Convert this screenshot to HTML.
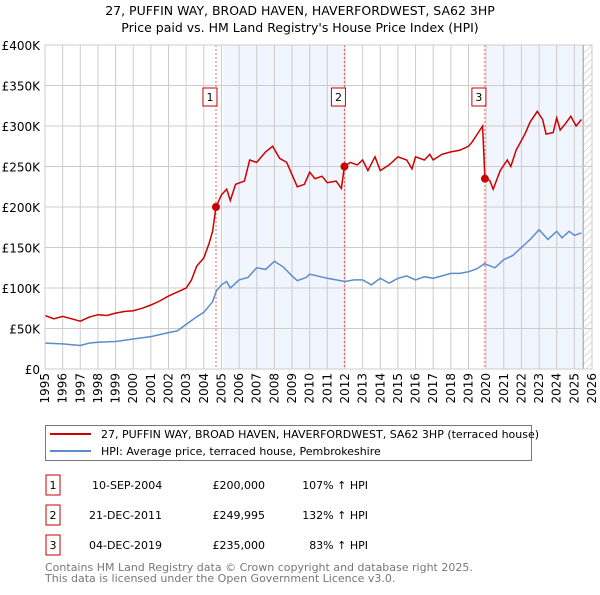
<!DOCTYPE html>
<html><head><meta charset="utf-8"><style>
body{margin:0;background:#fff;font-family:"Liberation Sans","DejaVu Sans",sans-serif;}
svg text{font-family:"DejaVu Sans","Liberation Sans",sans-serif;}
</style></head><body>
<svg id="c" width="600" height="590">
<text x="300" y="15" text-anchor="middle" font-size="12.5">27, PUFFIN WAY, BROAD HAVEN, HAVERFORDWEST, SA62 3HP</text>
<text x="300" y="32" text-anchor="middle" font-size="12.5">Price paid vs. HM Land Registry's House Price Index (HPI)</text>
<g id="plot"></g>
<g>
<rect x="45.5" y="425.5" width="486" height="35" fill="#fff" stroke="#777"/>
<line x1="50" y1="434" x2="91" y2="434" stroke="#cc0000" stroke-width="2"/>
<text x="101" y="438" font-size="11">27, PUFFIN WAY, BROAD HAVEN, HAVERFORDWEST, SA62 3HP (terraced house)</text>
<line x1="50" y1="451" x2="91" y2="451" stroke="#5b8bd0" stroke-width="2"/>
<text x="101" y="455" font-size="11">HPI: Average price, terraced house, Pembrokeshire</text>
</g>
<g font-size="11">
<rect x="46" y="475" width="14" height="20" fill="none" stroke="#cc0000"/><text x="53" y="489" text-anchor="middle">1</text>
<text x="92" y="489">10-SEP-2004</text><text x="265" y="489" text-anchor="end">£200,000</text><text x="368" y="489" text-anchor="end">107% ↑ HPI</text>
<rect x="46" y="505" width="14" height="20" fill="none" stroke="#cc0000"/><text x="53" y="519" text-anchor="middle">2</text>
<text x="89" y="519">21-DEC-2011</text><text x="265" y="519" text-anchor="end">£249,995</text><text x="368" y="519" text-anchor="end">132% ↑ HPI</text>
<rect x="46" y="535" width="14" height="20" fill="none" stroke="#cc0000"/><text x="53" y="549" text-anchor="middle">3</text>
<text x="89" y="549">04-DEC-2019</text><text x="265" y="549" text-anchor="end">£235,000</text><text x="368" y="549" text-anchor="end">83% ↑ HPI</text>
</g>
<text x="45" y="571" font-size="11" fill="#777">Contains HM Land Registry data © Crown copyright and database right 2025.</text>
<text x="45" y="582" font-size="11" fill="#777">This data is licensed under the Open Government Licence v3.0.</text>
</svg>
<script>
const yTicks=[0,50,100,150,200,250,300,350,400];
const xYears=[1995,1996,1997,1998,1999,2000,2001,2002,2003,2004,2005,2006,2007,2008,2009,2010,2011,2012,2013,2014,2015,2016,2017,2018,2019,2020,2021,2022,2023,2024,2025,2026];
const saleYears=[2004.69,2011.97,2019.93];
const salePrices=[200,249.995,235];
const saleLabels=["1","2","3"];
const redT=[1995,1995.5,1996,1996.5,1997,1997.5,1998,1998.5,1999,1999.5,2000,2000.5,2001,2001.5,2002,2002.5,2003,2003.3,2003.6,2004,2004.3,2004.5,2004.69,2005,2005.3,2005.5,2005.8,2006.3,2006.6,2007,2007.5,2007.9,2008.3,2008.7,2009,2009.3,2009.7,2010,2010.3,2010.7,2011,2011.5,2011.8,2011.97,2012.3,2012.7,2013,2013.3,2013.7,2014,2014.5,2015,2015.5,2015.8,2016,2016.5,2016.8,2017,2017.5,2018,2018.5,2019,2019.2,2019.5,2019.8,2019.93,2020.2,2020.4,2020.8,2021.2,2021.4,2021.7,2022.2,2022.5,2022.9,2023.2,2023.4,2023.8,2024,2024.2,2024.5,2024.8,2025.1,2025.4];
const redV=[66,62,65,62,59,64,67,66,69,71,72,75,79,84,90,95,100,110,127,137,155,170,200,215,222,208,228,232,258,255,268,275,260,255,240,225,228,243,235,238,230,232,223,250,255,252,258,245,262,245,252,262,258,247,262,258,265,258,265,268,270,275,280,290,300,235,233,222,245,258,250,270,290,305,318,308,290,292,310,295,303,312,300,308];
const hpiT=[1995,1996,1997,1997.5,1998,1999,2000,2001,2002,2002.5,2003,2003.5,2004,2004.5,2004.7,2005,2005.3,2005.5,2006,2006.5,2007,2007.5,2008,2008.5,2009,2009.3,2009.8,2010,2011,2012,2012.5,2013,2013.5,2014,2014.5,2015,2015.5,2016,2016.5,2017,2017.5,2018,2018.5,2019,2019.5,2019.9,2020.5,2021,2021.5,2022,2022.5,2023,2023.5,2024,2024.3,2024.7,2025,2025.4];
const hpiV=[32,31,29,32,33,34,37,40,45,47,55,63,70,83,96,104,108,100,110,113,125,123,133,126,115,109,113,117,112,108,110,110,104,112,106,112,115,110,114,112,115,118,118,120,124,130,125,135,140,150,160,172,160,170,162,170,165,168];
const L=45,R=592,T=45,B=369;
const X=y=>L+(y-1995)*(R-L)/31;
const Y=v=>B-v*(B-T)/400;
const NS="http://www.w3.org/2000/svg";
const g=document.getElementById('plot');
function mk(t,a,p){const e=document.createElementNS(NS,t);for(const k in a)e.setAttribute(k,a[k]);(p||g).appendChild(e);return e;}
let s1=mk('rect',{x:X(2005.1),y:T,width:X(2011.97)-X(2005.1),height:B-T,fill:'#eef3fc',opacity:0.8});


let s2=mk('rect',{x:X(2020.05),y:T,width:X(2025.5)-X(2020.05),height:B-T,fill:'#eef3fc',opacity:0.8});


const defs=mk('defs',{});
const pat=mk('pattern',{id:'h',width:5,height:5,patternUnits:'userSpaceOnUse',patternTransform:'rotate(45)'},defs);
mk('line',{x1:0,y1:0,x2:0,y2:5,stroke:'#bbb','stroke-width':1},pat);
let hz=mk('rect',{x:X(2025.5),y:T,width:R-X(2025.5),height:B-T,fill:'url(#h)'});


mk('line',{x1:X(2025.5),y1:T,x2:X(2025.5),y2:B,stroke:'#999'});
yTicks.forEach(v=>{
 mk('line',{x1:L,y1:Y(v),x2:R,y2:Y(v),stroke:'#ccc'});
 const t=mk('text',{x:40,y:Y(v)+5,'text-anchor':'end','font-size':12});t.textContent='£'+(v?v+'K':'0');
 
 
});
xYears.forEach(yr=>{
 mk('line',{x1:X(yr),y1:T,x2:X(yr),y2:B,stroke:'#ccc'});
 const t=mk('text',{x:0,y:0,'font-size':12,'text-anchor':'end',transform:`translate(${X(yr)+4},${B+4}) rotate(-90)`});t.textContent=yr;
 
 
});
saleYears.forEach((yr,i)=>{
 mk('line',{x1:X(yr),y1:T,x2:X(yr),y2:B,stroke:'#f06060','stroke-dasharray':'2,2'});
 const r=mk('rect',{x:X(yr)-13,y:88,width:14,height:18,fill:'#fff',stroke:'#cc0000'});
 
 
 const t=mk('text',{x:X(yr)-6,y:101,'text-anchor':'middle','font-size':11});t.textContent=saleLabels[i];
});
function line(ts,vs,col,name){
 const p=mk('path',{d:ts.map((t,i)=>(i?'L':'M')+X(t).toFixed(1)+','+Y(vs[i]).toFixed(1)).join(''),fill:'none',stroke:col,'stroke-width':1.5});
 
 
}
line(hpiT,hpiV,'#5b8bd0','hpi-line');
line(redT,redV,'#cc0000','property-price-line');
saleYears.forEach((yr,i)=>{
 const c=mk('circle',{cx:X(yr),cy:Y(salePrices[i]),r:4,fill:'#cc0000'});
 
 
});
mk('rect',{x:L,y:T,width:R-L,height:B-T,fill:'none',stroke:'#ccc'});
</script>
</body></html>
